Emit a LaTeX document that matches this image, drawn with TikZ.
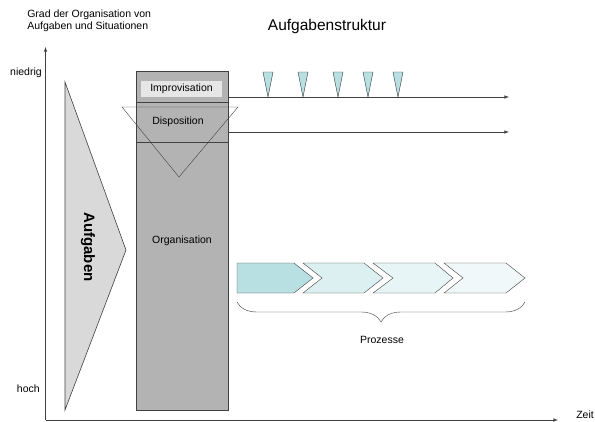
\documentclass[tikz,border=0pt]{standalone}
\usepackage{fontspec}
\setmainfont{Liberation Sans}
\usetikzlibrary{decorations.pathreplacing}
\definecolor{linegray}{RGB}{64,64,64}
\definecolor{boxgray}{RGB}{179,179,179}
\definecolor{trigray}{RGB}{217,217,217}
\definecolor{impgray}{RGB}{230,230,230}
\definecolor{tealA}{RGB}{184,223,226}
\definecolor{tealB}{RGB}{220,239,241}
\definecolor{tealC}{RGB}{232,245,246}
\definecolor{tealD}{RGB}{241,248,249}

\begin{document}
\begin{tikzpicture}[x=1pt,y=-1pt,font=\fontsize{10.5}{12}\selectfont,
  line width=0.6pt,draw=linegray]
\useasboundingbox (0,0) rectangle (595,421);
\node[font=\fontsize{15.5}{18}\selectfont] (title) at (327,26) {Aufgabenstruktur};
\node[anchor=north west,align=left,inner sep=0] (grad) at (27,10) {Grad der Organisation von\\Aufgaben und Situationen};
\coordinate (origin) at (45.5,420);
\coordinate (ytip) at (45.5,47);
\coordinate (xtip) at (558,420);
\draw[-latex,draw=linegray] (origin) -- (ytip);
\draw[-latex,draw=linegray] (origin) -- (xtip);
\node[anchor=east,inner sep=0] (low) at (42,73) {niedrig};
\node[anchor=east,inner sep=0] (high) at (40,389) {hoch};
\node[anchor=west,inner sep=0] (zeit) at (576,415) {Zeit};
\draw[draw=linegray,fill=trigray] (65,82) -- (126,250) -- (65,410) -- cycle;
\node[rotate=-90,font=\bfseries\fontsize{15}{18}\selectfont] (aufg) at (88,247) {Aufgaben};
\node[draw=linegray,fill=boxgray,minimum width=92,minimum height=339,inner sep=0] (org) at (182,240.5) {Organisation};
\node[fill=impgray,minimum width=81,minimum height=16,inner sep=0] (impro) at (181.5,89) {Improvisation};
\draw[draw=linegray] (136,102) -- (228,102);
\draw[draw=linegray] (136,142) -- (228,142);
\draw[draw=linegray,line width=0.4pt] (122,107) -- (238,107) -- (179,177) -- cycle;
\node (dispo) at (178,122) {Disposition};
\coordinate (impend) at (509,97);
\coordinate (dispend) at (509,132);
\draw[-latex,draw=linegray] (org.east |- impend) -- (impend);
\draw[-latex,draw=linegray] (org.east |- dispend) -- (dispend);
\filldraw[draw=linegray,fill=tealA,line width=0.4pt] (263,72) -- (273,72) -- (268,97) -- cycle;
\filldraw[draw=linegray,fill=tealA,line width=0.4pt] (298,72) -- (308,72) -- (303,97) -- cycle;
\filldraw[draw=linegray,fill=tealA,line width=0.4pt] (333,72) -- (343,72) -- (338,97) -- cycle;
\filldraw[draw=linegray,fill=tealA,line width=0.4pt] (363,72) -- (373,72) -- (368,97) -- cycle;
\filldraw[draw=linegray,fill=tealA,line width=0.4pt] (393,72) -- (403,72) -- (398,97) -- cycle;
\filldraw[draw=linegray,fill=tealA,line width=0.4pt] (237,263) -- (294,263) -- (313,278) -- (294,293) -- (237,293) -- cycle;
\filldraw[draw=linegray,fill=tealB,line width=0.4pt] (303,263) -- (364,263) -- (383,278) -- (364,293) -- (303,293) -- (322,278) -- cycle;
\filldraw[draw=linegray,fill=tealC,line width=0.4pt] (373,263) -- (435,263) -- (453,278) -- (435,293) -- (373,293) -- (393,278) -- cycle;
\filldraw[draw=linegray,fill=tealD,line width=0.4pt] (444,263) -- (506,263) -- (525,278) -- (506,293) -- (444,293) -- (463,278) -- cycle;
\draw[draw=linegray,line width=0.4pt,decorate,decoration={brace,mirror,amplitude=20}] (237,302) -- (525,302);
\node (proz) at (382,340) {Prozesse};
\end{tikzpicture}
\end{document}
